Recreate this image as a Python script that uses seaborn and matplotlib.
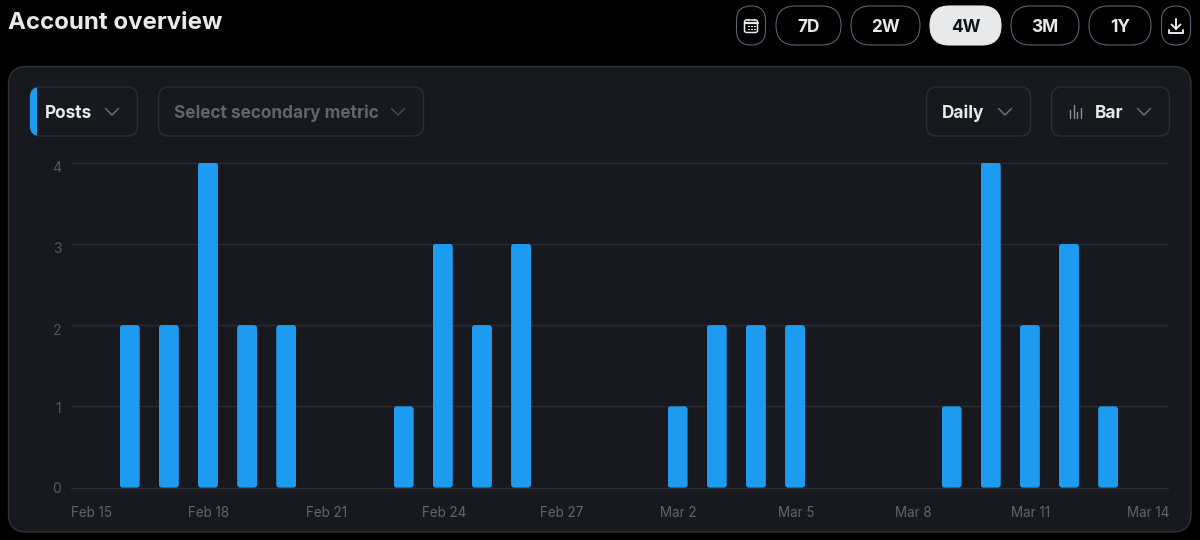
import matplotlib
matplotlib.use("Agg")
import matplotlib.pyplot as plt
import pandas as pd
import seaborn as sns
from matplotlib.patches import FancyBboxPatch, Rectangle
from matplotlib.transforms import ScaledTranslation

days = ["Feb 15", "Feb 16", "Feb 17", "Feb 18", "Feb 19", "Feb 20", "Feb 21",
        "Feb 22", "Feb 23", "Feb 24", "Feb 25", "Feb 26", "Feb 27", "Feb 28",
        "Mar 1", "Mar 2", "Mar 3", "Mar 4", "Mar 5", "Mar 6", "Mar 7",
        "Mar 8", "Mar 9", "Mar 10", "Mar 11", "Mar 12", "Mar 13", "Mar 14"]
posts = [0, 2, 2, 4, 2, 2, 0, 0, 1, 3, 2, 3, 0, 0,
         0, 1, 2, 2, 2, 0, 0, 0, 1, 4, 2, 3, 1, 0]
ranges = ["7D", "2W", "4W", "3M", "1Y"]
yticks = [0, 1, 2, 3, 4]

BLUE = "#1d9bf0"
CARD = "#17191e"
BORDER = "#2f3336"
PILL = "#536471"
FAINT = "#2a2d31"
GRID = "#2a2d31"
WHITE = "#e7e9ea"
MUTED = "#616469"
CHEV = "#71767b"

sns.set_theme(style="dark")
plt.rcParams["font.family"] = ["Inter", "DejaVu Sans"]

W, H = 1200, 540
fig = plt.figure(figsize=(W / 100, H / 100), dpi=100, facecolor="black")

ui = fig.add_axes([0, 0, 1, 1], zorder=0)
ui.set_xlim(0, W)
ui.set_ylim(H, 0)
ui.axis("off")


def box(x0, y0, x1, y1, r, fc="none", ec=BORDER, lw=1.0, z=1):
    p = FancyBboxPatch((x0 + r, y0 + r), x1 - x0 - 2 * r, y1 - y0 - 2 * r,
                       boxstyle=f"round,pad={r},rounding_size={r}",
                       fc=fc, ec=ec, lw=lw, zorder=z, mutation_aspect=1)
    ui.add_patch(p)
    return p


def label(x, y, s, size=12.4, color=WHITE, weight="bold", ha="center"):
    ui.text(x, y, s, fontsize=size, color=color, fontweight=weight,
            ha=ha, va="baseline", zorder=5)


def stroke(xs, ys, color=CHEV, lw=1.3):
    ui.plot(xs, ys, color=color, lw=lw, solid_capstyle="round",
            solid_joinstyle="round", zorder=5)


def chevron(cx, cy, color=CHEV):
    stroke([cx - 6.5, cx, cx + 6.5], [cy - 3.5, cy + 3, cy - 3.5], color=color, lw=1.0)


# header
label(8, 29, "Account overview", size=17.3, ha="left")
spans = [(776, 841), (851, 920), (930, 1001), (1011, 1079), (1089, 1151)]
for (x0, x1), name in zip(spans, ranges):
    active = name == "4W"
    box(x0, 6, x1, 45, 19.5, fc=WHITE if active else "black",
        ec=WHITE if active else PILL, lw=0.8)
    label((x0 + x1) / 2, 32, name, color="#0f1419" if active else WHITE)

# calendar icon
box(736.5, 6, 765.5, 45, 14.5, fc="black", ec=PILL, lw=0.8)
box(744.5, 20, 757.5, 32.5, 2, ec=WHITE, lw=1.1, z=5)
stroke([744.5, 757.5], [22.5, 22.5], WHITE, 1.6)
stroke([748, 748], [18.5, 20], WHITE, 1.0)
stroke([754, 754], [18.5, 20], WHITE, 1.0)
for gx in (748, 751, 754):
    for gy in (26, 29):
        stroke([gx, gx + 0.6], [gy, gy], WHITE, 0.9)

# download icon
box(1161.5, 6, 1190.5, 45, 14.5, fc="black", ec=PILL, lw=0.8)
stroke([1176, 1176], [18.5, 29], WHITE, 1.4)
stroke([1171.5, 1176, 1180.5], [24.5, 29, 24.5], WHITE, 1.4)
stroke([1169, 1169, 1183, 1183], [29.5, 33, 33, 29.5], WHITE, 1.4)

# card
box(8.5, 66.5, 1191, 532, 18, fc=CARD, ec=BORDER, lw=1.0)

# dropdowns
box(30, 87, 137.5, 136, 10, ec=FAINT)
pb = box(30, 87, 137.5, 136, 10, fc=BLUE, ec="none", z=2)
pb.set_clip_path(Rectangle((30, 87), 7, 49, transform=ui.transData))
label(45, 118, "Posts", ha="left")
chevron(112, 112)

box(158.5, 87, 423.5, 136, 10, ec=FAINT)
label(174, 118, "Select secondary metric", color=MUTED, ha="left")
chevron(398, 112, color="#4b4e53")

box(926.5, 87, 1030.5, 136, 10, ec=FAINT)
label(942, 118, "Daily", ha="left")
chevron(1005, 112)

box(1051.5, 87, 1169.5, 136, 10, ec=FAINT)
for bx, (top, bot) in zip((1070, 1073.5, 1077, 1080.5),
                          ((110, 118), (105, 118), (112, 118), (108, 118))):
    stroke([bx, bx], [top, bot], "#8b8f94", 1.0)
label(1095, 118, "Bar", ha="left")
chevron(1144, 112)

# chart
ax = fig.add_axes([71 / W, 1 - 487.6 / H, (1168 - 71) / W, (487.6 - 162.6) / H], zorder=1)
ax.patch.set_alpha(0)
df = pd.DataFrame({"day": days, "posts": posts})
sns.barplot(data=df, x="day", y="posts", color=BLUE, saturation=1, width=0.51,
            ax=ax, zorder=3, errorbar=None, linewidth=0)
ax.set_xlim(-0.5, len(days) - 0.47)
ax.set_ylim(0, max(yticks))
ax.set_xlabel("")
ax.set_ylabel("")
sns.despine(ax=ax, left=True, bottom=True, top=True, right=True)
ax.set_yticks(yticks)
ax.set_xticks(range(0, len(days), 3))
ax.set_xticklabels(days[::3])
ax.grid(False)
ax.grid(axis="y", color=GRID, lw=1.0, zorder=0)
for line in ax.get_ygridlines():
    line.set_clip_on(False)
ax.tick_params(axis="x", length=0, pad=13, labelsize=9.7, labelcolor=MUTED)
ax.tick_params(axis="y", length=0, pad=7, labelsize=10, labelcolor="#4d5866")

# tick text sits a little under its gridline, more so higher up
for lab, off in zip(ax.get_yticklabels(), [0, 1, 4, 4, 4]):
    lab.set_transform(lab.get_transform() + ScaledTranslation(0, -off / 100, fig.dpi_scale_trans))
for lab in ax.get_xticklabels():
    lab.set_transform(lab.get_transform() + ScaledTranslation(0.01, 0, fig.dpi_scale_trans))

# rounded corners on each bar, measured from the bar's own geometry
fig.canvas.draw()
for bar in ax.patches:
    if bar.get_height() <= 0:
        continue
    (x0, y0), (x1, y1) = ax.transData.transform(
        [(bar.get_x(), bar.get_y()), (bar.get_x() + bar.get_width(), bar.get_height())])
    r = 3
    clip = FancyBboxPatch((x0 + r, y0 + r), x1 - x0 - 2 * r, y1 - y0 - 2 * r,
                          boxstyle=f"round,pad={r},rounding_size={r}",
                          transform=None)
    bar.set_clip_path(clip)

fig.savefig("out.png", dpi=100, facecolor="black")
